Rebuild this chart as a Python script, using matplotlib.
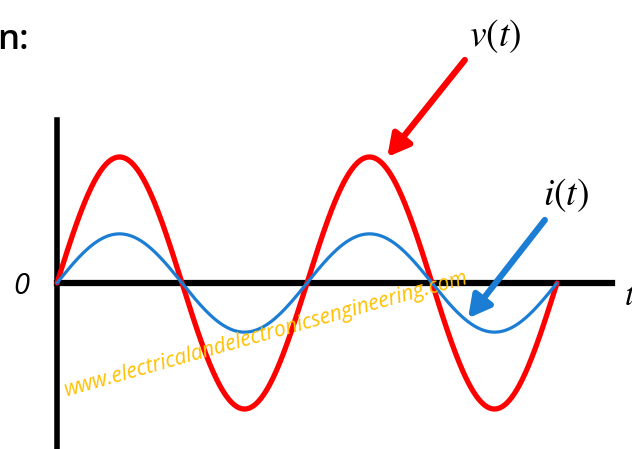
import numpy as np
import matplotlib
matplotlib.use("Agg")
import matplotlib.pyplot as plt

# waveform parameters (in-phase v and i, two full cycles)
V_PEAK = 1.0
I_PEAK = 0.39
N_CYCLES = 2
N_SAMPLES = 600

# labels
V_LABEL = r"$v(t)$"
I_LABEL = r"$i(t)$"
WATERMARK = "www.electricalandelectronicsengineering.com"

RED = "#FF0000"
BLUE = "#1B7DD3"
GOLD = "#FFC000"

plt.rcParams["mathtext.fontset"] = "stix"

t = np.linspace(0, 2 * np.pi * N_CYCLES, N_SAMPLES)
v = V_PEAK * np.sin(t)
i = I_PEAK * np.sin(t)

fig = plt.figure(figsize=(6.32, 4.49), dpi=100)
ax = fig.add_axes([0, 0, 1, 1])

# scale: 2 cycles span 500 px, origin at (57, 283) px, 126 px per unit
px = 4 * np.pi / 500
ax.set_xlim(-57 * px, (632 - 57) * px)
ax.set_ylim(-(449 - 283) / 126, 283 / 126)

ax.plot(t, v, color=RED, lw=3.8, solid_capstyle="round", zorder=3)
ax.plot(t, i, color=BLUE, lw=2.3, solid_capstyle="round", zorder=3)

# axes lines
for s in ["top", "right"]:
    ax.spines[s].set_visible(False)
ax.spines["left"].set_position(("data", 0))
ax.spines["bottom"].set_position(("data", 0))
ax.spines["left"].set_bounds(-1.4, 1.29)
ax.spines["bottom"].set_bounds(0, 13.95)
ax.spines["left"].set_linewidth(4)
ax.spines["bottom"].set_linewidth(4.5)
ax.spines["left"].set_zorder(2)
ax.spines["bottom"].set_zorder(2)
ax.set_xticks([])
ax.set_yticks([])

# arrows
ax.annotate("", xy=(8.3, 1.0), xytext=(10.25, 1.77),
            arrowprops=dict(arrowstyle="-|>,head_length=1.3,head_width=0.7",
                            color=RED, lw=4.5, shrinkA=0, shrinkB=0), zorder=4)
ax.annotate("", xy=(10.33, -0.28), xytext=(12.26, 0.5),
            arrowprops=dict(arrowstyle="-|>,head_length=1.3,head_width=0.7",
                            color=BLUE, lw=4.5, shrinkA=0, shrinkB=0), zorder=4)

# text
ax.text(11.0, 1.96, V_LABEL, fontsize=27, ha="center", va="center")
ax.text(12.8, 0.70, I_LABEL, fontsize=27, ha="center", va="center")
ax.text(-0.9, -0.03, "0", fontsize=21, style="italic", family="Open Sans",
        ha="center", va="center")
ax.text(14.4, -0.1, r"$t$", fontsize=24, ha="center", va="center")
fig.text(-0.005, 0.912, "n:", fontsize=25, fontweight="semibold", family="Open Sans",
         ha="left", va="center")

ax.text(0.25, -0.9, WATERMARK, fontsize=15, style="italic", family="Open Sans",
        color=GOLD, rotation=15.7, rotation_mode="anchor", ha="left",
        va="baseline", zorder=5)

fig.savefig("out.png", dpi=100)
